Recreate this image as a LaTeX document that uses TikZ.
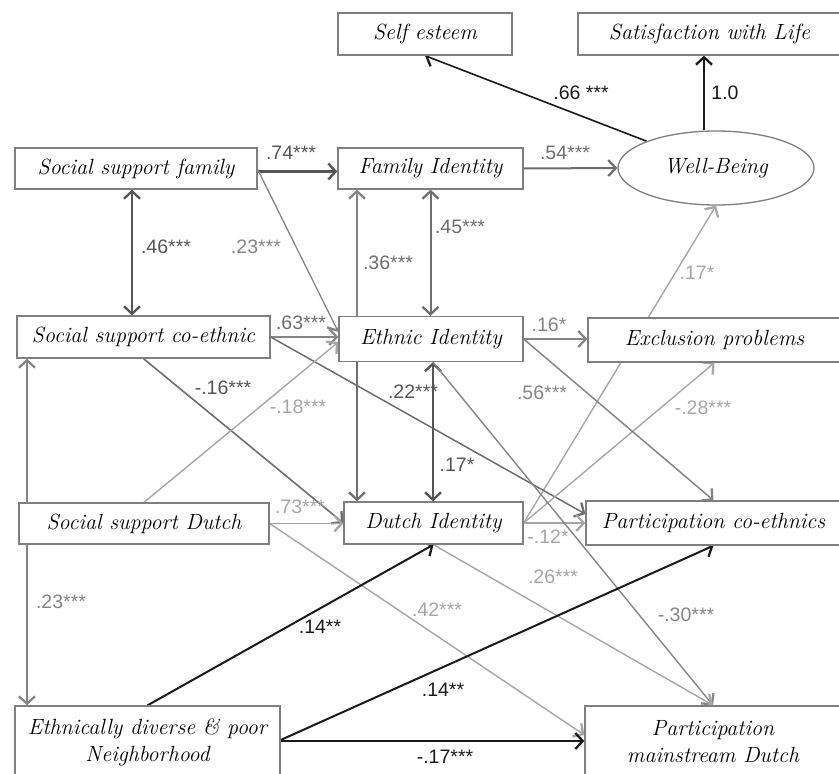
\documentclass[tikz,border=0pt]{standalone}
\usepackage{fontspec}
\newfontfamily\lblfont{Liberation Sans}
\usetikzlibrary{arrows.meta,shapes.geometric}
\pgfdeclarelayer{bg}
\pgfsetlayers{bg,main}
\definecolor{cdark}{HTML}{555555}
\definecolor{cmid}{HTML}{6E6E6E}
\definecolor{cgray}{HTML}{858585}
\definecolor{clight}{HTML}{A6A6A6}
\definecolor{cblack}{HTML}{1A1A1A}
\definecolor{cbox}{HTML}{7F7F7F}
\tikzset{
  sb/.tip={Straight Barb[length=7.5pt,width=16pt,line width=2.3pt]},
  box/.style={draw=cbox, line width=1.3pt, fill=white, inner sep=0pt,
    font=\fontsize{22}{27}\selectfont\itshape, align=center},
  lbl/.style={font=\lblfont\fontsize{19.5}{22}\selectfont, inner sep=0pt},
  arr/.style={-sb},
  darr/.style={sb-sb},
}
\begin{document}
\begin{tikzpicture}[x=1pt,y=-1pt]
\useasboundingbox (0,0) rectangle (839,774);
% nodes
\node[box, minimum width=174, minimum height=42] (se) at (425,34) {Self esteem};
\node[box, minimum width=263, minimum height=42] (swl) at (709.5,34) {Satisfaction with Life};
\node[box, ellipse, minimum width=196, minimum height=74] (we) at (716,168) {Well-Being};
\node[box, minimum width=242, minimum height=41] (ssf) at (136,168.5) {Social support family};
\node[box, minimum width=185, minimum height=41] (fi) at (430.5,168.5) {Family Identity};
\node[box, minimum width=253, minimum height=42] (ssc) at (143.5,337) {Social support co-ethnic};
\node[box, minimum width=184, minimum height=45] (ei) at (431,339) {Ethnic Identity};
\node[box, minimum width=253, minimum height=44] (ex) at (714.5,340) {Exclusion problems};
\node[box, minimum width=250, minimum height=41] (ssd) at (144,523.5) {Social support Dutch};
\node[box, minimum width=179, minimum height=42] (di) at (433.5,523) {Dutch Identity};
\node[box, minimum width=255, minimum height=44] (pce) at (713.5,523) {Participation co-ethnics};
\node[box, minimum width=265, minimum height=72] (ed) at (147.5,742) {Ethnically diverse \& poor\\Neighborhood};
\node[box, minimum width=256, minimum height=72] (pmd) at (713,742) {Participation\\mainstream Dutch};
% edges
\begin{pgfonlayer}{bg}
\draw[arr, cdark, line width=2.4pt] ([yshift=-3pt]ssf.east) -- ([yshift=-3pt]ssf.east -| fi.west);
\draw[darr, cdark, line width=2.4pt] ([xshift=-4pt]ssf.south) -- ([xshift=-4pt]ssf.south |- ssc.north);
\draw[arr, cgray, line width=1.3pt] ([yshift=-1pt]ssf.east) -- ([yshift=7pt]ei.west);
\draw[arr, cgray, line width=1.6pt] ([xshift=-74pt]ei.north) -- ([xshift=-74pt]ei.north |- fi.south);
\draw[darr, cmid, line width=2pt] (fi.south) -- (fi.south |- ei.north);
\draw[arr, cmid, line width=2pt] (fi.east) -- (we.west);
\draw[arr, cblack, line width=1.6pt] (we) -- (se.south);
\draw[arr, cblack, line width=1.8pt] ([xshift=-12pt]we.north) -- ([xshift=-12pt]we.north |- swl.south);
\draw[arr, cgray, line width=1.8pt] (ssc.east) -- (ssc.east -| ei.west);
\draw[arr, cgray, line width=1.8pt] (ei.east) -- (ei.east -| ex.west);
\draw[arr, clight, line width=1.4pt] (di.east) -- (we.south);
\draw[arr, cmid, line width=1.5pt] (ssc.east) -- ([yshift=9pt]pce.west);
\draw[arr, cmid, line width=1.6pt] (ssc.south) -- (di.west);
\draw[arr, clight, line width=1.4pt] (ssd.north) -- ([yshift=-3pt]ei.west);
\draw[arr, cmid, line width=1.6pt] ([xshift=-74pt]ei.south) -- ([xshift=-74pt]ei.south |- di.north);
\draw[darr, cdark, line width=2.4pt] ([xshift=2pt]ei.south) -- ([xshift=2pt]ei.south |- di.north);
\draw[arr, clight, line width=1.8pt] (ssd.east) -- (ssd.east -| di.west);
\draw[darr, cgray, line width=1.8pt] ([xshift=-116.5pt]ssc.south) -- ([xshift=-116.5pt]ssc.south |- ed.north);
\draw[arr, clight, line width=1.8pt] (di.east) -- (di.east -| pce.west);
\draw[arr, clight, line width=1.4pt] (di.east) -- (ex.south);
\draw[arr, cgray, line width=1.5pt] (ei.east) -- (pce.north);
\draw[arr, cgray, line width=1.4pt] ([xshift=2pt]ei.south) -- (pmd.north);
\draw[arr, clight, line width=1.4pt] (ssd.east) -- ([yshift=7pt]pmd.west);
\draw[arr, clight, line width=1.4pt] (di.south) -- (pmd.north);
\draw[arr, cblack, line width=2pt] (ed.north) -- (di.south);
\draw[arr, cblack, line width=2pt] ([yshift=2pt]ed.east) -- (pce.south);
\draw[arr, cblack, line width=2pt] ([yshift=1pt]ed.east) -- ([yshift=1pt]ed.east -| pmd.west);
\end{pgfonlayer}
% labels
\node[lbl, text=cblack] (l66) at (581,93) {.66 ***};
\node[lbl, text=cblack] (l10) at (725,93) {1.0};
\node[lbl, text=cdark] (l74) at (291,153) {.74***};
\node[lbl, text=cmid] (l54) at (565,153) {.54***};
\node[lbl, text=cdark] (l46) at (166,247) {.46***};
\node[lbl, text=cgray] (l23a) at (256,247) {.23***};
\node[lbl, text=cmid] (l36) at (388,263) {.36***};
\node[lbl, text=cmid] (l45) at (460,227) {.45***};
\node[lbl, text=clight] (l17a) at (697,273) {.17*};
\node[lbl, text=cmid] (l63) at (301,323) {.63***};
\node[lbl, text=cgray] (l16) at (549,325) {.16*};
\node[lbl, text=cdark] (l16n) at (223,388) {-.16***};
\node[lbl, text=cdark] (l22) at (413,392) {.22***};
\node[lbl, text=cgray] (l56) at (542,393) {.56***};
\node[lbl, text=clight] (l18) at (298,407) {-.18***};
\node[lbl, text=clight] (l28) at (703,408) {-.28***};
\node[lbl, text=cdark] (l17b) at (457,465) {.17*};
\node[lbl, text=clight] (l73) at (300,507) {.73***};
\node[lbl, text=clight] (l12) at (548,537) {-.12*};
\node[lbl, text=clight] (l26) at (553,577) {.26***};
\node[lbl, text=cgray] (l23b) at (61,602) {.23***};
\node[lbl, text=clight] (l42) at (437,610) {.42***};
\node[lbl, text=cgray] (l30) at (686,615) {-.30***};
\node[lbl, text=cblack] (l14a) at (320,627) {.14**};
\node[lbl, text=cblack] (l14b) at (443,690) {.14**};
\node[lbl, text=cblack] (l17c) at (445,757) {-.17***};
\end{tikzpicture}
\end{document}
